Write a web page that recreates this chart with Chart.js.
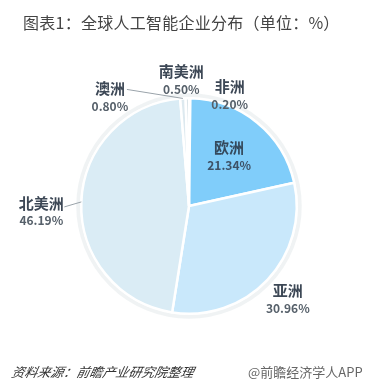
<!DOCTYPE html>
<html>
<head>
<meta charset="utf-8">
<script src="https://cdn.jsdelivr.net/npm/chart.js@4/dist/chart.umd.min.js"></script>
<style>
	html, body {
		margin: 0;
		padding: 0;
		background: #fff;
		overflow: hidden;
	}

	#wrap {
		position: relative;
		width: 367px;
		height: 387px;
	}

	#chart {
		position: absolute;
		left: 0;
		top: 0;
	}

	.txt {
		position: absolute;
		white-space: nowrap;
		font-family: "Noto Sans CJK SC", "Noto Sans", sans-serif;
	}

	#title {
		left: 23px;
		top: 12px;
		font-size: 16px;
		line-height: 20px;
		letter-spacing: 0.25px;
		color: #444;
	}

	#source {
		left: 10px;
		top: 364px;
		font-size: 13px;
		line-height: 16px;
		color: #333;
		font-style: italic;
		transform: skewX(-12deg);
		transform-origin: left bottom;
	}

	#brand {
		left: 248px;
		top: 364px;
		font-size: 13px;
		line-height: 16px;
		color: #666;
	}
</style>
</head>
<body>
<div id="wrap">
	<canvas id="chart" width="367" height="387"></canvas>
	<div id="title" class="txt">图表1：全球人工智能企业分布（单位：%）</div>
	<div id="source" class="txt">资料来源：前瞻产业研究院整理</div>
	<div id="brand" class="txt">@前瞻经济学人APP</div>
</div>
<script>
const
	regions = ['非洲', '欧洲', '亚洲', '北美洲', '澳洲', '南美洲'],
	shares = [0.20, 21.34, 30.96, 46.19, 0.80, 0.50],
	shareLabels = ['0.20%', '21.34%', '30.96%', '46.19%', '0.80%', '0.50%'];

const
	sliceColors = ['#5fb9f0', '#80cdfa', '#c9e8fb', '#daecf5', '#dde9ef', '#cfdce2'];

// where each label goes: k = fraction of radius along the slice middle, dx/dy = shift of the text,
// lead = end of the leader line, relative to the same anchor
const labelPlacement = [
	{k: 1.0, dx: 40, dy: -3},
	{k: 0.59, dx: 0, dy: 0},
	{k: 1.26, dx: 0, dy: 0},
	{k: 1.0, dx: -40, dy: 10, lead: [-17, 5]},
	{k: 1.0, dx: -73, dy: -1, lead: [-56, -9]},
	{k: 1.0, dx: -6, dy: -18}
];

const sliceLabels = {
	id: 'sliceLabels',

	beforeDatasetsDraw(chart) {
		const
			arc = chart.getDatasetMeta(0).data[0],
			{x, y, outerRadius} = arc.getProps(['x', 'y', 'outerRadius'], true),
			ctx = chart.ctx;

		ctx.save();
		ctx.beginPath();
		ctx.arc(x, y, outerRadius + 3, 0, Math.PI * 2);
		ctx.strokeStyle = 'rgba(205, 215, 220, 0.3)';
		ctx.lineWidth = 4;
		ctx.stroke();
		ctx.restore();
	},

	afterDatasetsDraw(chart) {
		const
			ctx = chart.ctx,
			meta = chart.getDatasetMeta(0);

		meta.data.forEach((arc, i) => {
			const
				{x, y, startAngle, endAngle, outerRadius} = arc.getProps(['x', 'y', 'startAngle', 'endAngle', 'outerRadius'], true),
				mid = (startAngle + endAngle) / 2,
				p = labelPlacement[i],
				ax = x + Math.cos(mid) * outerRadius * p.k,
				ay = y + Math.sin(mid) * outerRadius * p.k;

			ctx.save();

			if (p.lead) {
				ctx.beginPath();
				ctx.moveTo(ax, ay);
				ctx.lineTo(ax + p.lead[0], ay + p.lead[1]);
				ctx.strokeStyle = '#9aa3aa';
				ctx.lineWidth = 1;
				ctx.stroke();
			}

			const
				tx = ax + p.dx,
				ty = ay + p.dy;

			ctx.textAlign = 'center';
			ctx.textBaseline = 'middle';

			ctx.font = 'bold 15px "Noto Sans CJK SC", sans-serif';
			ctx.fillStyle = i === 1 ? '#34495c' : '#3d4856';
			ctx.fillText(regions[i], tx, ty - 9);

			ctx.font = 'bold 12px "Noto Sans CJK SC", sans-serif';
			ctx.fillStyle = i === 1 ? '#3d5166' : '#56606a';
			ctx.fillText(shareLabels[i], tx, ty + 9);

			ctx.restore();
		});
	}
};

new Chart(document.getElementById('chart'), {
	type: 'pie',
	data: {
		labels: regions,
		datasets: [{
			data: shares,
			backgroundColor: sliceColors,
			borderColor: '#ffffff',
			borderWidth: 2.5
		}]
	},
	options: {
		responsive: false,
		animation: false,
		layout: {
			padding: {left: 80, right: 69, top: 97, bottom: 72}
		},
		plugins: {
			legend: {display: false},
			tooltip: {enabled: false},
			title: {display: false}
		}
	},
	plugins: [sliceLabels]
});
</script>
</body>
</html>
